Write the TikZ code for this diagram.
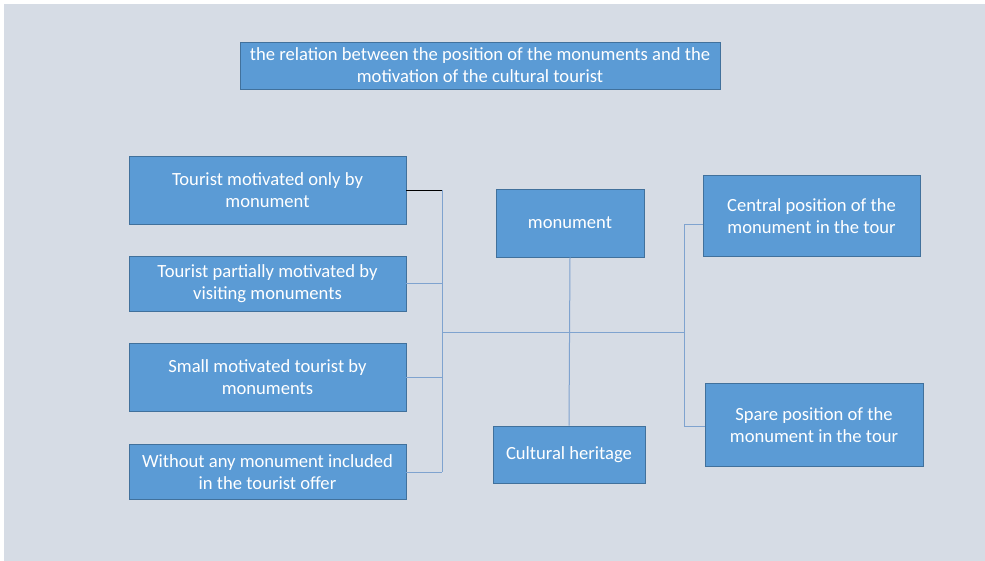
\documentclass[tikz,border=0pt]{standalone}
\usepackage{fontspec}
\setmainfont{Carlito}
\definecolor{bg}{HTML}{D6DCE5}
\definecolor{boxfill}{HTML}{5B9BD5}
\definecolor{boxline}{HTML}{41719C}
\definecolor{conn}{HTML}{7FA3CF}
\tikzset{
  box/.style={draw=boxline, line width=0.8pt, fill=boxfill, text=white, align=center,
    inner sep=0pt, font=\fontsize{18.6}{22}\selectfont},
  link/.style={draw=conn, line width=1pt},
}
\begin{document}
\begin{tikzpicture}[x=1pt,y=-1pt]
\useasboundingbox (0,0) rectangle (985,560);
\fill[white] (-5,-5) rectangle (990,565);
\fill[bg] (4,4) rectangle (990,565);
% title
\node[box, minimum width=480pt, minimum height=47pt] (title) at (480,65.5)
  {the relation between the position of the monuments and the\\motivation of the cultural tourist};
% left boxes
\node[box, minimum width=277pt, minimum height=68pt] (b1) at (267.5,190)
  {Tourist motivated only by\\monument};
\node[box, minimum width=277pt, minimum height=55pt] (b2) at (267.5,283.5)
  {Tourist partially motivated by\\visiting monuments};
\node[box, minimum width=277pt, minimum height=68pt] (b3) at (267.5,377)
  {Small motivated tourist by\\monuments};
\node[box, minimum width=277pt, minimum height=55pt] (b4) at (267.5,472)
  {Without any monument included\\in the tourist offer};
% middle boxes
\node[box, minimum width=148pt, minimum height=68pt] (mon) at (570,223)
  {monument};
\node[box, minimum width=152pt, minimum height=57pt] (cult) at (569,454.5)
  {Cultural heritage};
% right boxes
\node[box, minimum width=217pt, minimum height=81pt] (cen) at (811.5,216)
  {Central position of the\\monument in the tour};
\node[box, minimum width=218pt, minimum height=83pt] (spa) at (814,425)
  {Spare position of the\\monument in the tour};
% bus coordinates
\coordinate (lt) at (442,190);
\coordinate (lb) at (442,472);
\coordinate (lm) at (442,332);
\coordinate (rm) at (684,332);
\coordinate (rt) at (684,224);
\coordinate (rb) at (684,426);
% connectors
\draw[line width=1pt, black] (b1.east) -- (lt);
\draw[link] (lt) -- (lb);
\draw[link] (b2.east) -- (b2.east -| lt);
\draw[link] (b3.east) -- (b3.east -| lt);
\draw[link] (b4.east) -- (lb);
\draw[link] (lm) -- (rm);
\draw[link] (mon.south) -- (cult.north);
\draw[link] (rt) -- (rb);
\draw[link] (rt) -- (rt -| cen.west);
\draw[link] (rb) -- (rb -| spa.west);
\end{tikzpicture}
\end{document}
